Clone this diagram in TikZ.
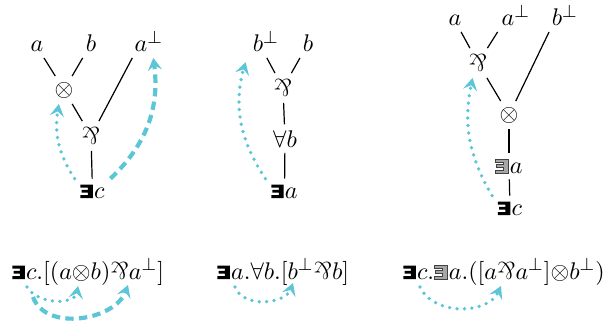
\documentclass[tikz,border=0pt]{standalone}
\usepackage{amsmath,amssymb}
\usetikzlibrary{arrows.meta,calc}
\definecolor{cy}{RGB}{92,197,214}
\newcommand{\exshape}{(0,0) -- (5.6,0) -- (5.6,6.1) -- (0,6.1) -- (0,4.75) -- (3.4,4.75) -- (3.4,3.7) -- (0.5,3.7) -- (0.5,2.4) -- (3.4,2.4) -- (3.4,1.35) -- (0,1.35) -- cycle}
\newcommand{\bex}{\tikz[baseline=0pt,x=1pt,y=1pt]\fill[black] \exshape;\hspace{0.6pt}}
\newcommand{\hex}{\tikz[baseline=0pt,x=1pt,y=1pt]\filldraw[fill=black!35,draw=black!75,line width=0.45pt] \exshape;\hspace{0.6pt}}
\newcommand{\parrsym}{\mathbin{\rotatebox[origin=c]{180}{\&}}}
\newcommand{\parrord}{\mathord{\rotatebox[origin=c]{180}{\&}}}
\newcommand{\pleaf}[1]{$\rlap{$#1^{\perp}$}\phantom{#1}$}
\begin{document}
\begin{tikzpicture}[x=0.4545pt,y=0.4545pt,
  every node/.style={font=\fontsize{11}{13}\selectfont},
  lf/.style={anchor=base,inner sep=2.5pt},
  op/.style={inner sep=2.5pt},
  edge/.style={draw=black,line width=0.55pt},
  tipc/.style={-{Stealth[length=5.6pt,width=6.4pt,inset=2.2pt]}},
  dotarrow/.style={tipc,draw=cy,line width=1.7pt,line cap=round,dash pattern=on 0pt off 3.4pt},
  dasharrow/.style={tipc,draw=cy,line width=1.9pt,dash pattern=on 3.8pt off 2.4pt},
  frm/.style={anchor=base west,inner sep=0pt}]
\useasboundingbox (0,0) rectangle (608,321);
% diagram 1
\node[lf] (a1) at (37,269) {$a$};
\node[lf] (b1) at (91,269) {$b$};
\node[lf] (ap1) at (141,269) {\pleaf{a}};
\node[op] (ot1) at (64,231) {$\otimes$};
\node[op] (par1) at (91,185) {$\parrsym$};
\node[lf] (ec1) at (92.5,123) {\bex$c$};
\draw[edge] (a1) -- (ot1);
\draw[edge] (b1) -- (ot1);
\draw[edge] (ot1) -- (par1);
\draw[edge] (ap1) -- (par1);
\draw[edge] (par1) -- (ec1);
\draw[dotarrow] (ec1.north west) to[bend left=21] (ot1.250);
\draw[dasharrow] (ec1.north east) to[bend right=27] (ap1.south east);
% diagram 2
\node[lf] (bp2) at (258,269) {\pleaf{b}};
\node[lf] (b2) at (308,269) {$b$};
\node[op] (par2) at (283,233) {$\parrsym$};
\node[lf] (fb2) at (285,174) {$\forall b$};
\node[lf] (ea2) at (284.5,123) {\bex$a$};
\draw[edge] (bp2) -- (par2);
\draw[edge] (b2) -- (par2);
\draw[edge] (par2) -- (fb2);
\draw[edge] (fb2) -- (ea2);
\draw[dotarrow,shorten >=2pt] (ea2.north west) to[bend left=25] (bp2.south west);
% diagram 3
\node[lf] (a3) at (455,295) {$a$};
\node[lf] (ap3) at (508,295) {\pleaf{a}};
\node[lf] (bp3) at (557,295) {\pleaf{b}};
\node[op] (par3) at (478,258) {$\parrsym$};
\node[op] (ot3) at (509,206) {$\otimes$};
\node[lf] (ha3) at (509,148) {\hex$a$};
\node[lf] (ec3) at (510,106) {\bex$c$};
\draw[edge] (a3) -- (par3);
\draw[edge] (ap3) -- (par3);
\draw[edge] (par3) -- (ot3);
\draw[edge] (bp3) -- (ot3);
\draw[edge] (ot3) -- (ha3);
\draw[edge] (ha3) -- (ec3);
\draw[dotarrow] (ec3.north west) to[bend left=21] (par3.250);
% formulas
\node[frm] (f1) at (12,42) {\bex$c.[(a{\otimes}b)\parrord a^{\perp}]$};
\node[frm] (f2) at (217,42) {\bex$a.\forall b.[b^{\perp}\parrord b]$};
\node[frm] (f3) at (403,42) {\bex$c.$\hex$a.([a\parrord a^{\perp}]{\otimes}b^{\perp})$};
\coordinate (s1) at (27,34);
\coordinate (t1) at (78,35);
\coordinate (s1d) at (33,24);
\coordinate (t1d) at (128,36);
\coordinate (s2) at (235,34);
\coordinate (t2) at (293,38);
\coordinate (s3) at (420,34);
\coordinate (t3) at (501,35);
\draw[dotarrow] (s1) to[out=-60,in=-100] (t1);
\draw[dasharrow] (s1d) to[out=-70,in=-110] (t1d);
\draw[dotarrow] (s2) to[out=-70,in=-110] (t2);
\draw[dotarrow] (s3) to[out=-65,in=-115] (t3);
\end{tikzpicture}
\end{document}
